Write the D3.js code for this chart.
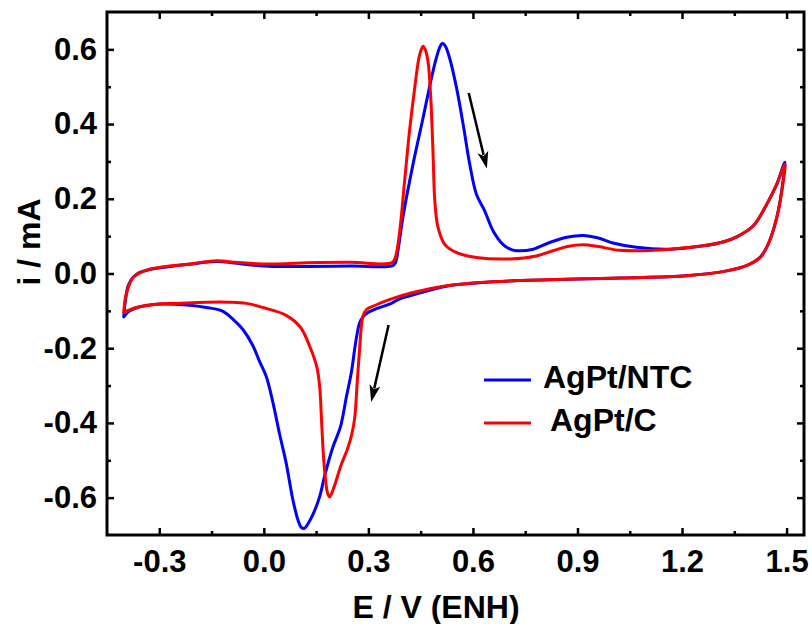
<!DOCTYPE html>
<html>
<head>
<meta charset="utf-8">
<script src="https://cdn.jsdelivr.net/npm/d3@7/dist/d3.min.js"></script>
<style>
  html, body { margin: 0; padding: 0; background: #fff; }
  svg { display: block; }
  text { font-family: "Liberation Sans", Arial, sans-serif; font-weight: bold; fill: #000; }
</style>
</head>
<body>
<script>
// Cyclic voltammograms: forward (anodic) scan from -0.40 V up to 1.50 V, then reverse scan back.
// AgPt/NTC
const ntcE = [-0.402,-0.396,-0.389,-0.375,-0.356,-0.330,-0.308,-0.260,-0.213,-0.170,-0.136,-0.100,-0.050,0.027,0.123,0.250,0.370,
  0.378,0.388,0.399,0.428,0.457,0.481,0.495,0.505,0.512,0.520,0.533,0.553,0.572,0.591,0.610,0.634,0.658,0.686,0.705,0.725,0.773,0.820,0.870,0.916,0.960,1.005,1.069,1.165,1.261,1.320,1.357,1.404,1.443,1.472,1.495,
  1.491,1.472,1.447,1.424,1.385,1.328,1.213,1.022,0.734,0.619,0.524,0.419,0.390,0.361,0.323,0.300,0.285,0.275,0.268,0.261,0.252,0.237,0.220,0.198,0.175,0.160,0.141,0.128,0.117,0.108,0.098,0.083,0.064,0.045,0.026,0.007,-0.012,-0.032,-0.060,-0.089,-0.120,-0.165,-0.213,-0.308,-0.356,-0.385,-0.402];
const ntcI = [-0.116,-0.065,-0.032,-0.010,0.003,0.010,0.014,0.020,0.025,0.030,0.032,0.030,0.024,0.019,0.019,0.020,0.021,
  0.030,0.080,0.150,0.292,0.417,0.523,0.577,0.606,0.616,0.610,0.577,0.497,0.399,0.292,0.212,0.167,0.114,0.078,0.066,0.061,0.065,0.083,0.097,0.102,0.095,0.081,0.070,0.065,0.074,0.085,0.098,0.127,0.185,0.239,0.298,
  0.256,0.150,0.078,0.043,0.021,0.007,-0.006,-0.012,-0.019,-0.025,-0.034,-0.060,-0.068,-0.082,-0.094,-0.104,-0.116,-0.132,-0.160,-0.200,-0.260,-0.330,-0.410,-0.465,-0.540,-0.598,-0.645,-0.668,-0.682,-0.680,-0.660,-0.604,-0.507,-0.429,-0.345,-0.276,-0.236,-0.192,-0.150,-0.122,-0.100,-0.091,-0.085,-0.082,-0.089,-0.100,-0.116];

// AgPt/C
const cE = [-0.402,-0.398,-0.392,-0.375,-0.337,-0.300,-0.260,-0.200,-0.136,-0.080,-0.021,0.060,0.123,0.250,0.368,
  0.378,0.390,0.404,0.418,0.433,0.445,0.452,0.457,0.463,0.471,0.479,0.485,0.490,0.495,0.500,0.519,0.553,0.610,0.706,0.782,0.830,0.875,0.916,0.960,1.021,1.117,1.165,1.261,1.320,1.357,1.404,1.443,1.472,1.495,
  1.491,1.472,1.447,1.424,1.385,1.328,1.213,1.022,0.734,0.619,0.524,0.428,0.360,0.320,0.294,0.284,0.279,0.275,0.268,0.261,0.252,0.240,0.222,0.204,0.194,0.189,0.183,0.178,0.171,0.166,0.160,0.152,0.133,0.105,0.064,-0.003,-0.050,-0.098,-0.165,-0.250,-0.308,-0.366,-0.402];
const cI = [-0.104,-0.070,-0.046,-0.011,0.009,0.016,0.021,0.027,0.034,0.030,0.026,0.026,0.029,0.030,0.029,
  0.045,0.114,0.248,0.381,0.497,0.577,0.600,0.608,0.600,0.568,0.470,0.336,0.203,0.150,0.123,0.078,0.056,0.043,0.039,0.047,0.061,0.073,0.077,0.072,0.062,0.062,0.065,0.074,0.085,0.098,0.127,0.185,0.239,0.292,
  0.250,0.150,0.078,0.043,0.021,0.007,-0.006,-0.012,-0.019,-0.024,-0.033,-0.051,-0.070,-0.085,-0.097,-0.115,-0.150,-0.200,-0.290,-0.385,-0.432,-0.470,-0.512,-0.565,-0.590,-0.598,-0.588,-0.560,-0.487,-0.400,-0.300,-0.250,-0.198,-0.144,-0.112,-0.091,-0.080,-0.077,-0.077,-0.080,-0.082,-0.091,-0.104];

const seriesNames = ["AgPt/NTC", "AgPt/C"];
const seriesColors = ["#0000ff", "#ff0000"];

// Axis ticks
const xTicks = [-0.3, 0.0, 0.3, 0.6, 0.9, 1.2, 1.5];
const xMinorTicks = [-0.15, 0.15, 0.45, 0.75, 1.05, 1.35];
const yTicks = [-0.6, -0.4, -0.2, 0.0, 0.2, 0.4, 0.6];
const yMinorTicks = [-0.5, -0.3, -0.1, 0.1, 0.3, 0.5];

// Scan-direction arrows [E, i] start -> tip
const arrowFrom = [[0.588, 0.483], [0.358, -0.138]];
const arrowTo = [[0.640, 0.281], [0.308, -0.344]];

const W = 812, H = 624;
const margin = { left: 107, top: 12, right: 8, bottom: 89 };
const iw = W - margin.left - margin.right;
const ih = H - margin.top - margin.bottom;

const svg = d3.select("body").append("svg").attr("width", W).attr("height", H);
const g = svg.append("g").attr("transform", `translate(${margin.left},${margin.top})`);

const x = d3.scaleLinear().domain([-0.45, 1.55]).range([0, iw]);
const y = d3.scaleLinear().domain([-0.7, 0.7]).range([ih, 0]);

const fmt = d => d.toFixed(1);

function styleAxis(sel) {
  sel.select(".domain").remove();
  sel.selectAll(".tick line").attr("stroke", "#000").attr("stroke-width", 2.5);
}

// Major + minor ticks on all four sides, pointing inward
g.append("g").attr("transform", `translate(0,${ih})`)
  .call(d3.axisBottom(x).tickValues(xTicks).tickFormat(fmt).tickSizeInner(-7).tickSizeOuter(0).tickPadding(15))
  .call(styleAxis)
  .call(s => s.selectAll("text").attr("font-size", 31).attr("font-family", null));
g.append("g").attr("transform", `translate(0,${ih})`)
  .call(d3.axisBottom(x).tickValues(xMinorTicks).tickFormat("").tickSizeInner(-4).tickSizeOuter(0))
  .call(styleAxis);
g.append("g")
  .call(d3.axisTop(x).tickValues(xTicks).tickFormat("").tickSizeInner(-7).tickSizeOuter(0))
  .call(styleAxis);
g.append("g")
  .call(d3.axisTop(x).tickValues(xMinorTicks).tickFormat("").tickSizeInner(-4).tickSizeOuter(0))
  .call(styleAxis);

g.append("g")
  .call(d3.axisLeft(y).tickValues(yTicks).tickFormat(fmt).tickSizeInner(-7).tickSizeOuter(0).tickPadding(10))
  .call(styleAxis)
  .call(s => s.selectAll("text").attr("font-size", 31).attr("font-family", null));
g.append("g")
  .call(d3.axisLeft(y).tickValues(yMinorTicks).tickFormat("").tickSizeInner(-4).tickSizeOuter(0))
  .call(styleAxis);
g.append("g").attr("transform", `translate(${iw},0)`)
  .call(d3.axisRight(y).tickValues(yTicks).tickFormat("").tickSizeInner(-7).tickSizeOuter(0))
  .call(styleAxis);
g.append("g").attr("transform", `translate(${iw},0)`)
  .call(d3.axisRight(y).tickValues(yMinorTicks).tickFormat("").tickSizeInner(-4).tickSizeOuter(0))
  .call(styleAxis);

// Frame
g.append("rect").attr("x", 0).attr("y", 0).attr("width", iw).attr("height", ih)
  .attr("fill", "none").attr("stroke", "#000").attr("stroke-width", 3);

// Curves
const line = d3.line()
  .x(d => x(d[0])).y(d => y(d[1]))
  .curve(d3.curveCatmullRom.alpha(0.5));

const series = [
  { name: seriesNames[0], color: seriesColors[0], pts: d3.zip(ntcE, ntcI) },
  { name: seriesNames[1], color: seriesColors[1], pts: d3.zip(cE, cI) }
];

g.selectAll("path.cv").data(series).join("path")
  .attr("class", "cv")
  .attr("d", d => line(d.pts))
  .attr("fill", "none")
  .attr("stroke", d => d.color)
  .attr("stroke-width", 3)
  .attr("stroke-linejoin", "round")
  .attr("stroke-linecap", "round");

// Scan-direction arrows
arrowFrom.forEach((f, k) => {
  const t = arrowTo[k];
  const x0 = x(f[0]), y0 = y(f[1]), x1 = x(t[0]), y1 = y(t[1]);
  const len = Math.hypot(x1 - x0, y1 - y0);
  const ux = (x1 - x0) / len, uy = (y1 - y0) / len;
  const headL = 17, headW = 5.5;
  const bx = x1 - ux * headL, by = y1 - uy * headL;
  g.append("line")
    .attr("x1", x0).attr("y1", y0)
    .attr("x2", x1 - ux * (headL - 3)).attr("y2", y1 - uy * (headL - 3))
    .attr("stroke", "#000").attr("stroke-width", 2.5);
  g.append("path")
    .attr("d", `M${x1},${y1} L${bx - uy * headW},${by + ux * headW} L${bx + ux * 4},${by + uy * 4} L${bx + uy * headW},${by - ux * headW} Z`)
    .attr("fill", "#000");
});

// Legend
const legend = svg.append("g");
const legendY = [380, 423];
const legendTextX = [543, 550];
series.forEach((s, k) => {
  legend.append("line")
    .attr("x1", 484).attr("x2", 531)
    .attr("y1", legendY[k]).attr("y2", legendY[k])
    .attr("stroke", s.color).attr("stroke-width", 3);
  legend.append("text")
    .attr("x", legendTextX[k]).attr("y", legendY[k] + 8)
    .attr("font-size", 32)
    .text(s.name);
});

// Axis titles
svg.append("text")
  .attr("x", 436).attr("y", 618)
  .attr("text-anchor", "middle")
  .attr("font-size", 32)
  .text("E / V (ENH)");
svg.append("text")
  .attr("transform", "translate(40,242) rotate(-90)")
  .attr("text-anchor", "middle")
  .attr("font-size", 32)
  .text("i / mA");
</script>
</body>
</html>
